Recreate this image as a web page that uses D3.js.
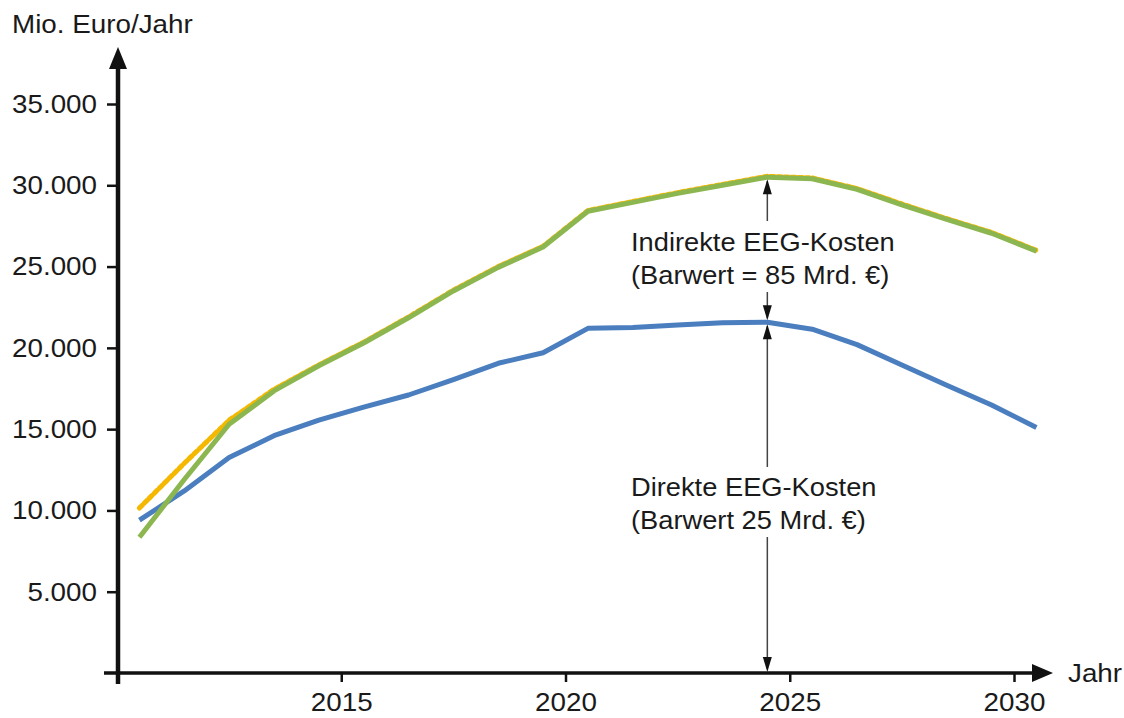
<!DOCTYPE html>
<html lang="de">
<head>
    <meta charset="UTF-8">
    <title>EEG-Kosten</title>
    <script src="https://d3js.org/d3.v7.min.js"></script>
    <style>
        body { margin: 0; background: #fff; }
        text { font-family: "Liberation Sans", Arial, sans-serif; fill: #1a1a1a; }
    </style>
</head>
<body>
<div id="chart"></div>

<script>
    // annual values, plotted in the middle of each year
    const years = [2010, 2011, 2012, 2013, 2014, 2015, 2016, 2017, 2018, 2019, 2020,
        2021, 2022, 2023, 2024, 2025, 2026, 2027, 2028, 2029, 2030];
    const direkt = [9400, 11200, 13250, 14600, 15550, 16350, 17100, 18050, 19050, 19700, 21200,
        21250, 21400, 21550, 21580, 21150, 20200, 18950, 17700, 16480, 15100];
    const gesamt = [8350, 11900, 15300, 17350, 18900, 20300, 21850, 23500, 24950, 26200, 28400,
        28950, 29500, 30000, 30500, 30400, 29750, 28800, 27900, 27050, 25950];
    const gesamtAlt = [10150, 12900, 15550, 17450, 18950, 20350, 21900, 23550, 25000, 26250, 28450,
        29000, 29550, 30050, 30550, 30450, 29800, 28850, 27950, 27100, 26000];
    const yTicks = [5000, 10000, 15000, 20000, 25000, 30000, 35000];
    const xTicks = [2015, 2020, 2025, 2030];
    const peakYear = 2024; // where the annotation arrows stand

    const width = 1124, height = 718;
    const stretch = 1.07; // text in the original is a bit wider than Arial
    const de = d3.formatLocale({decimal: ",", thousands: ".", grouping: [3], currency: ["", " €"]});
    const fmt = de.format(",");

    const x = d3.scaleLinear().domain([2010, 2030]).range([117, 1014]);
    const y = d3.scaleLinear().domain([0, 35000]).range([673, 104]);
    const xm = yr => x(yr + 0.5);

    const svg = d3.select("#chart").append("svg")
        .attr("width", width)
        .attr("height", height);

    // widen text around its own anchor point
    function widen(sel) {
        sel.each(function () {
            const t = d3.select(this);
            const ox = +t.attr("x") || 0;
            t.attr("transform", `translate(${ox},0) scale(${stretch},1) translate(${-ox},0)`);
        });
    }

    // y axis ticks + labels
    const yAxis = svg.append("g")
        .attr("transform", "translate(118,0)")
        .call(d3.axisLeft(y).tickValues(yTicks).tickSize(11).tickPadding(10).tickFormat(fmt));
    yAxis.select(".domain").remove();
    yAxis.selectAll(".tick line").attr("stroke", "#111").attr("stroke-width", 2.5);
    yAxis.selectAll(".tick text").style("font-size", "26px").attr("fill", "#1a1a1a").call(widen);

    // x axis ticks + labels
    const xAxis = svg.append("g")
        .attr("transform", "translate(0,673)")
        .call(d3.axisBottom(x).tickValues(xTicks).tickSize(9).tickPadding(11).tickFormat(d3.format("d")));
    xAxis.select(".domain").remove();
    xAxis.selectAll(".tick line").attr("stroke", "#111").attr("stroke-width", 2.5);
    xAxis.selectAll(".tick text").style("font-size", "26px").attr("fill", "#1a1a1a").call(widen);

    // axis lines with arrow heads
    svg.append("line").attr("x1", 104).attr("x2", 1034).attr("y1", 673).attr("y2", 673)
        .attr("stroke", "#111").attr("stroke-width", 3.5);
    svg.append("path").attr("d", "M1032,664 L1053,673 L1032,682 Z").attr("fill", "#111");
    svg.append("line").attr("x1", 118).attr("x2", 118).attr("y1", 684).attr("y2", 66)
        .attr("stroke", "#111").attr("stroke-width", 4.5);
    svg.append("path").attr("d", "M109,69 L118,47 L127,69 Z").attr("fill", "#111");

    svg.append("text").attr("x", 12).attr("y", 33).style("font-size", "26px").text("Mio. Euro/Jahr").call(widen);
    svg.append("text").attr("x", 1068).attr("y", 682).style("font-size", "26px").text("Jahr").call(widen);

    // lines
    const line = d3.line().x((d, i) => xm(years[i])).y(d => y(d));
    svg.append("path").datum(direkt).attr("d", line)
        .attr("fill", "none").attr("stroke", "#4a7ebe").attr("stroke-width", 5).attr("stroke-linejoin", "round");
    svg.append("path").datum(gesamtAlt).attr("d", line)
        .attr("fill", "none").attr("stroke", "#f5b800").attr("stroke-width", 5)
        .attr("stroke-dasharray", "4,3").attr("stroke-linecap", "round");
    svg.append("path").datum(gesamt).attr("d", line)
        .attr("fill", "none").attr("stroke", "#8cb650").attr("stroke-width", 5).attr("stroke-linejoin", "round");

    // annotation arrows
    const i = years.indexOf(peakYear);
    const ax = xm(peakYear);
    const yTop = y(gesamt[i]), yMid = y(direkt[i]), yBot = y(0);

    function arrowHead(px, py, dir) {
        // dir = -1 points up, 1 points down
        svg.append("path")
            .attr("d", `M${px - 4.5},${py - dir * 15} L${px},${py} L${px + 4.5},${py - dir * 15} Z`)
            .attr("fill", "#111");
    }

    function vline(y1, y2) {
        svg.append("line").attr("x1", ax).attr("x2", ax).attr("y1", y1).attr("y2", y2)
            .attr("stroke", "#444").attr("stroke-width", 1.5);
    }

    vline(yTop + 4, 221);
    vline(292, yMid - 4);
    arrowHead(ax, yTop + 2, -1);
    arrowHead(ax, yMid - 2, 1);

    vline(yMid + 4, 467);
    vline(537, yBot - 4);
    arrowHead(ax, yMid + 2, -1);
    arrowHead(ax, yBot - 1, 1);

    const labels = [
        {t: "Indirekte EEG-Kosten", y: 251},
        {t: "(Barwert = 85 Mrd. €)", y: 284},
        {t: "Direkte EEG-Kosten", y: 496},
        {t: "(Barwert 25 Mrd. €)", y: 529}
    ];
    svg.selectAll(".note").data(labels).join("text")
        .attr("class", "note")
        .attr("x", 631)
        .attr("y", d => d.y)
        .style("font-size", "25.5px")
        .text(d => d.t)
        .call(widen);
</script>
</body>
</html>
